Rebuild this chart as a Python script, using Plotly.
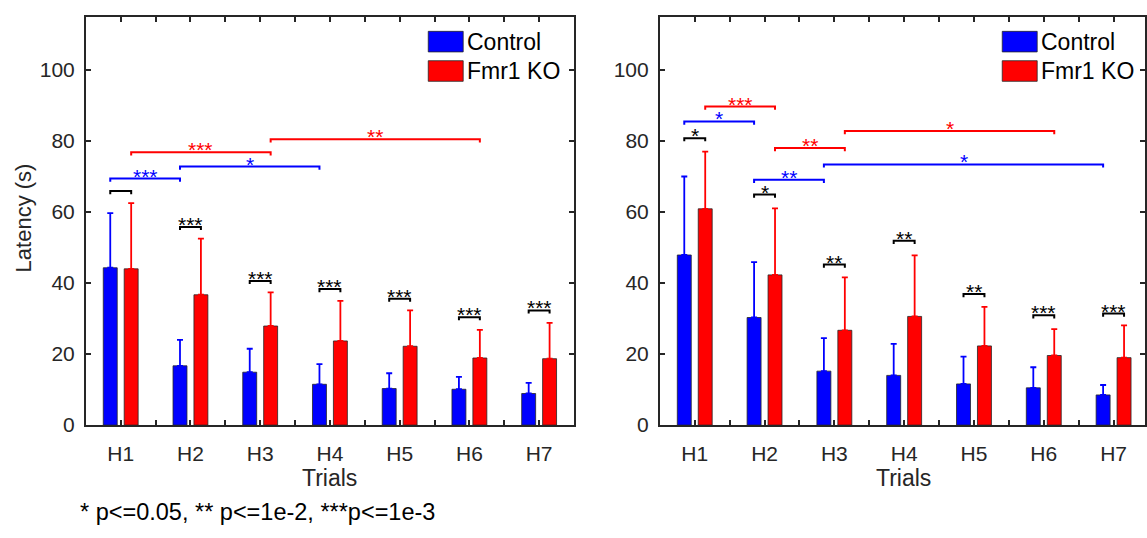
import plotly.graph_objects as go

# ---------------- data ----------------
categories = ['H1', 'H2', 'H3', 'H4', 'H5', 'H6', 'H7']
series_names = ['Control', 'Fmr1 KO']

ctrl_left = [44.3, 16.7, 14.9, 11.5, 10.3, 10.1, 8.9]
ctrl_left_err = [15.4, 7.3, 6.6, 5.7, 4.3, 3.5, 3.0]
ko_left = [44.0, 36.7, 27.9, 23.7, 22.2, 18.9, 18.7]
ko_left_err = [18.5, 15.8, 9.5, 11.3, 10.1, 7.9, 10.1]

ctrl_right = [47.9, 30.3, 15.2, 14.0, 11.6, 10.5, 8.5]
ctrl_right_err = [22.1, 15.6, 9.3, 8.9, 7.7, 5.8, 2.8]
ko_right = [60.9, 42.3, 26.7, 30.6, 22.3, 19.6, 19.0]
ko_right_err = [16.1, 18.7, 14.9, 17.2, 11.0, 7.4, 9.1]

# significance brackets: (group1, series1, group2, series2, level, stars)
sig_left = [
    (0, 0, 0, 1, 65.9, ''),
    (0, 0, 1, 0, 69.4, '***'),
    (0, 1, 2, 1, 76.8, '***'),
    (1, 0, 3, 0, 72.8, '*'),
    (2, 1, 5, 1, 80.5, '**'),
    (1, 0, 1, 1, 55.8, '***'),
    (2, 0, 2, 1, 40.6, '***'),
    (3, 0, 3, 1, 38.3, '***'),
    (4, 0, 4, 1, 35.6, '***'),
    (5, 0, 5, 1, 30.4, '***'),
    (6, 0, 6, 1, 32.3, '***'),
]
sig_right = [
    (0, 0, 0, 1, 80.8, '*'),
    (0, 0, 1, 0, 85.5, '*'),
    (0, 1, 1, 1, 89.7, '***'),
    (1, 0, 1, 1, 64.9, '*'),
    (1, 0, 2, 0, 69.1, '**'),
    (1, 1, 2, 1, 78.0, '**'),
    (2, 1, 5, 1, 82.8, '*'),
    (2, 0, 6, 0, 73.4, '*'),
    (2, 0, 2, 1, 45.2, '**'),
    (3, 0, 3, 1, 51.9, '**'),
    (4, 0, 4, 1, 36.9, '**'),
    (5, 0, 5, 1, 30.9, '***'),
    (6, 0, 6, 1, 31.4, '***'),
]

footnote = '* p<=0.05, ** p<=1e-2, ***p<=1e-3'

# ---------------- style ----------------
W, H = 1147, 538
BLUE = '#0000FF'
RED = '#FF0000'
AX = '#262626'
FONT = 'Liberation Sans, Arial, sans-serif'
series_colors = [BLUE, RED]
bracket_colors = {(0, 0): BLUE, (1, 1): RED}
BAR_W = 0.2
OFFS = [-0.25, 0.05]


def px(x):
    return x / W


def py(y):
    return 1 - y / H


fig = go.Figure()

panels = [
    dict(xa='x', ya='y', data=[(ctrl_left, ctrl_left_err), (ko_left, ko_left_err)], sig=sig_left,
         left=86, right=575),
    dict(xa='x2', ya='y2', data=[(ctrl_right, ctrl_right_err), (ko_right, ko_right_err)], sig=sig_right,
         left=661, right=1150),
]

xpos = list(range(1, len(categories) + 1))
annotations = []
shapes = []

for p in panels:
    for s, (vals, errs) in enumerate(p['data']):
        fig.add_trace(go.Bar(
            x=xpos, y=vals, width=BAR_W, offset=OFFS[s],
            marker=dict(color=series_colors[s], line=dict(color=AX, width=0.8)),
            error_y=dict(type='data', array=errs, arrayminus=[0] * len(errs), symmetric=False,
                         color=series_colors[s], thickness=1.8, width=3),
            name=series_names[s], showlegend=False, hoverinfo='skip',
            xaxis=p['xa'], yaxis=p['ya'],
        ))
    for (g1, s1, g2, s2, lvl, stars) in p['sig']:
        x1 = g1 + 1 + OFFS[s1] + BAR_W / 2
        x2 = g2 + 1 + OFFS[s2] + BAR_W / 2
        col = bracket_colors.get((s1, s2), 'black') if g1 != g2 else 'black'
        fig.add_trace(go.Scatter(
            x=[x1, x1, x2, x2], y=[lvl - 0.9, lvl, lvl, lvl - 0.9], mode='lines',
            line=dict(color=col, width=2), showlegend=False, hoverinfo='skip',
            xaxis=p['xa'], yaxis=p['ya'],
        ))
        if stars:
            annotations.append(dict(
                x=(x1 + x2) / 2, y=lvl, xref=p['xa'], yref=p['ya'], text=stars,
                showarrow=False, xanchor='center', yanchor='bottom', yshift=-11,
                font=dict(family=FONT, size=21, color=col),
            ))
    # legend (manual)
    lx = p['left'] + 343
    for s, (y0, y1) in enumerate([(32, 53), (62, 83)]):
        shapes.append(dict(type='rect', xref='paper', yref='paper',
                           x0=px(lx), x1=px(lx + 35), y0=py(y1), y1=py(y0),
                           fillcolor=series_colors[s], line=dict(color=AX, width=0.8)))
        annotations.append(dict(x=px(lx + 37), y=py((y0 + y1) / 2), xref='paper', yref='paper',
                                text=series_names[s], showarrow=False, xanchor='left', yanchor='middle',
                                font=dict(family=FONT, size=23, color='black')))
    # x title
    annotations.append(dict(x=px((p['left'] + p['right']) / 2), y=py(488), xref='paper', yref='paper',
                            text='Trials', showarrow=False, xanchor='center', yanchor='middle',
                            font=dict(family=FONT, size=23, color=AX)))

annotations.append(dict(x=px(24), y=py(222), xref='paper', yref='paper', text='Latency (s)',
                        textangle=-90, showarrow=False, xanchor='center', yanchor='middle',
                        font=dict(family=FONT, size=22, color=AX)))
annotations.append(dict(x=px(78), y=py(523), xref='paper', yref='paper', text=footnote,
                        showarrow=False, xanchor='left', yanchor='middle',
                        font=dict(family=FONT, size=23.5, color='black')))

tickvals_x = [v / 2 for v in range(2, 2 * len(categories) + 1)]
ticktext_x = []
for v in tickvals_x:
    ticktext_x.append(categories[int(v) - 1] if v == int(v) else '')

common_x = dict(showline=True, mirror='ticks', linecolor=AX, linewidth=1.8, ticks='inside',
                ticklen=5, tickwidth=1.5, tickcolor=AX, showgrid=False, zeroline=False,
                tickvals=tickvals_x, ticktext=ticktext_x, ticklabelstandoff=9,
                tickfont=dict(family=FONT, size=21, color=AX))
common_y = dict(showline=True, mirror='ticks', linecolor=AX, linewidth=1.8, ticks='inside',
                ticklen=5, tickwidth=1.5, tickcolor=AX, showgrid=False, zeroline=False,
                range=[0, 115], tickvals=[0, 20, 40, 60, 80, 100], ticklabelstandoff=5,
                tickfont=dict(family=FONT, size=21, color=AX))
ydom = [(H - 434) / H, (H - 17) / H]

fig.update_layout(
    width=W, height=H, margin=dict(l=0, r=0, t=0, b=0),
    paper_bgcolor='white', plot_bgcolor='white', barmode='overlay', showlegend=False,
    xaxis=dict(common_x, domain=[px(86), px(575)], range=[0.5, 7.5], anchor='y'),
    yaxis=dict(common_y, domain=ydom, anchor='x'),
    xaxis2=dict(common_x, domain=[px(661), 1.0], range=[0.5, 7.45], anchor='y2'),
    yaxis2=dict(common_y, domain=ydom, anchor='x2'),
    annotations=annotations, shapes=shapes,
)

fig.write_html('out.html')
